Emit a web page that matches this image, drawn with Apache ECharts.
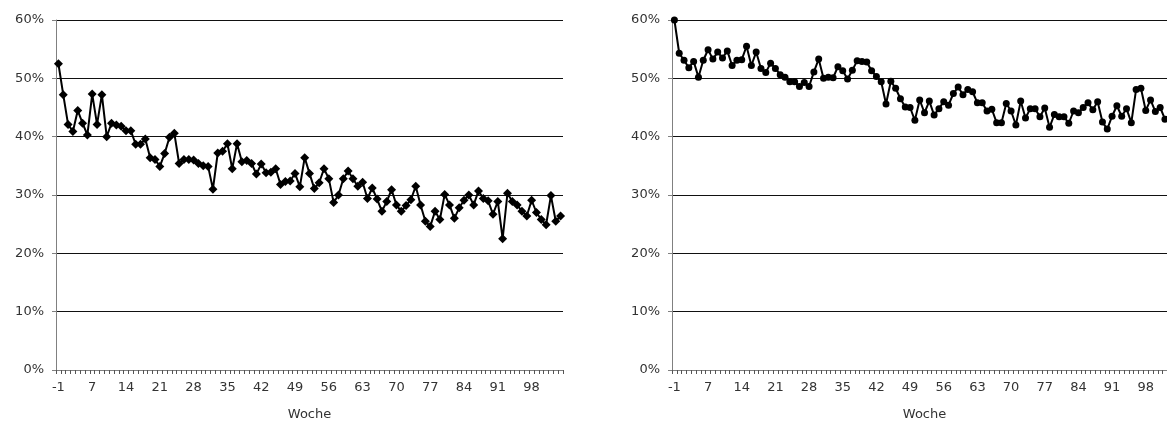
<!DOCTYPE html>
<html>
<head>
<meta charset="utf-8">
<script src="https://cdn.jsdelivr.net/npm/echarts@6/dist/echarts.min.js"></script>
<style>
  html, body { margin: 0; padding: 0; background: #fff; overflow: hidden; }
  #chart { width: 1167px; height: 421px; }
</style>
</head>
<body>
<div id="chart"></div>
<script>
// Weeks: -1, then 1..104
const weeks = ['-1'];
for (let w = 1; w <= 104; w++) weeks.push(String(w));

// Share per week (%), left panel
const leftValues = [
  52.5, 47.2, 42.1, 40.9, 44.5, 42.3, 40.3, 47.3, 42.1, 47.2,
  40.0, 42.3, 42.0, 41.8, 41.0, 41.0, 38.7, 38.7, 39.6, 36.4,
  36.1, 34.9, 37.1, 39.9, 40.6, 35.4, 36.1, 36.1, 36.0, 35.4,
  35.0, 34.9, 31.0, 37.2, 37.5, 38.8, 34.5, 38.8, 35.7, 35.9,
  35.4, 33.6, 35.3, 33.8, 33.9, 34.5, 31.8, 32.3, 32.4, 33.7,
  31.4, 36.4, 33.7, 31.1, 32.1, 34.5, 32.8, 28.7, 30.0, 32.8,
  34.1, 32.8, 31.5, 32.2, 29.4, 31.2, 29.3, 27.2, 28.9, 30.9,
  28.3, 27.2, 28.2, 29.2, 31.5, 28.3, 25.5, 24.6, 27.2, 25.8,
  30.1, 28.3, 26.0, 27.8, 29.1, 30.0, 28.3, 30.7, 29.4, 29.0,
  26.7, 28.9, 22.5, 30.3, 28.9, 28.3, 27.2, 26.4, 29.1, 27.0,
  25.8, 24.9, 29.9, 25.5, 26.4
];

// Share per week (%), right panel
const rightValues = [
  60.0, 54.3, 53.1, 51.8, 52.9, 50.2, 53.1, 54.9, 53.3, 54.5,
  53.5, 54.7, 52.2, 53.1, 53.2, 55.5, 52.2, 54.5, 51.7, 51.0,
  52.6, 51.7, 50.6, 50.2, 49.4, 49.4, 48.6, 49.3, 48.6, 51.1,
  53.3, 50.0, 50.2, 50.1, 52.0, 51.3, 49.9, 51.4, 53.0, 52.9,
  52.8, 51.3, 50.3, 49.4, 45.6, 49.5, 48.3, 46.5, 45.1, 45.0,
  42.8, 46.3, 44.1, 46.1, 43.7, 44.8, 46.0, 45.4, 47.4, 48.5,
  47.2, 48.1, 47.7, 45.8, 45.8, 44.4, 44.7, 42.4, 42.4, 45.7,
  44.4, 42.0, 46.1, 43.2, 44.8, 44.8, 43.4, 44.9, 41.6, 43.8,
  43.4, 43.4, 42.3, 44.4, 44.1, 45.0, 45.8, 44.6, 46.0, 42.5,
  41.3, 43.5, 45.3, 43.5, 44.8, 42.4, 48.1, 48.3, 44.5, 46.3,
  44.3, 45.0, 43.0
];

const FONT = 'DejaVu Sans';
const TEXT = '#333';
const AXIS = '#808080';

function makeX(gridIndex) {
  return {
    type: 'category',
    gridIndex,
    data: weeks,
    boundaryGap: true,
    name: 'Woche',
    nameLocation: 'middle',
    nameGap: 38,
    nameTextStyle: { fontFamily: FONT, fontSize: 13, color: TEXT },
    axisLine: { show: true, lineStyle: { color: AXIS, width: 1 } },
    axisTick: { show: true, interval: 0, length: 4, lineStyle: { color: '#555' } },
    axisLabel: { interval: 6, margin: 11, fontFamily: FONT, fontSize: 13, color: TEXT },
    splitLine: { show: false }
  };
}

function makeY(gridIndex) {
  return {
    type: 'value',
    gridIndex,
    min: 0,
    max: 60,
    interval: 10,
    axisLine: { show: true, lineStyle: { color: AXIS, width: 1 } },
    axisTick: { show: true, length: 4, lineStyle: { color: AXIS } },
    axisLabel: { formatter: '{value}%', margin: 12, fontFamily: FONT, fontSize: 13, color: TEXT },
    splitLine: { show: true, lineStyle: { color: '#111', width: 1 } }
  };
}

function makeSeries(idx, values, symbol, size) {
  return {
    type: 'line',
    xAxisIndex: idx,
    yAxisIndex: idx,
    data: values,
    symbol,
    symbolSize: size,
    showAllSymbol: true,
    clip: false,
    lineStyle: { color: '#000', width: 2 },
    itemStyle: { color: '#000' },
    emphasis: { disabled: true },
    z: 3
  };
}

const chart = echarts.init(document.getElementById('chart'), null, { renderer: 'canvas' });
chart.setOption({
  animation: false,
  backgroundColor: '#fff',
  grid: [
    { left: 56, top: 20, width: 507, height: 350, outerBoundsMode: 'none', containLabel: false },
    { left: 672, top: 20, width: 505, height: 350, outerBoundsMode: 'none', containLabel: false }
  ],
  xAxis: [makeX(0), makeX(1)],
  yAxis: [makeY(0), makeY(1)],
  series: [
    makeSeries(0, leftValues, 'diamond', 9),
    makeSeries(1, rightValues, 'circle', 7)
  ]
});
</script>
</body>
</html>
